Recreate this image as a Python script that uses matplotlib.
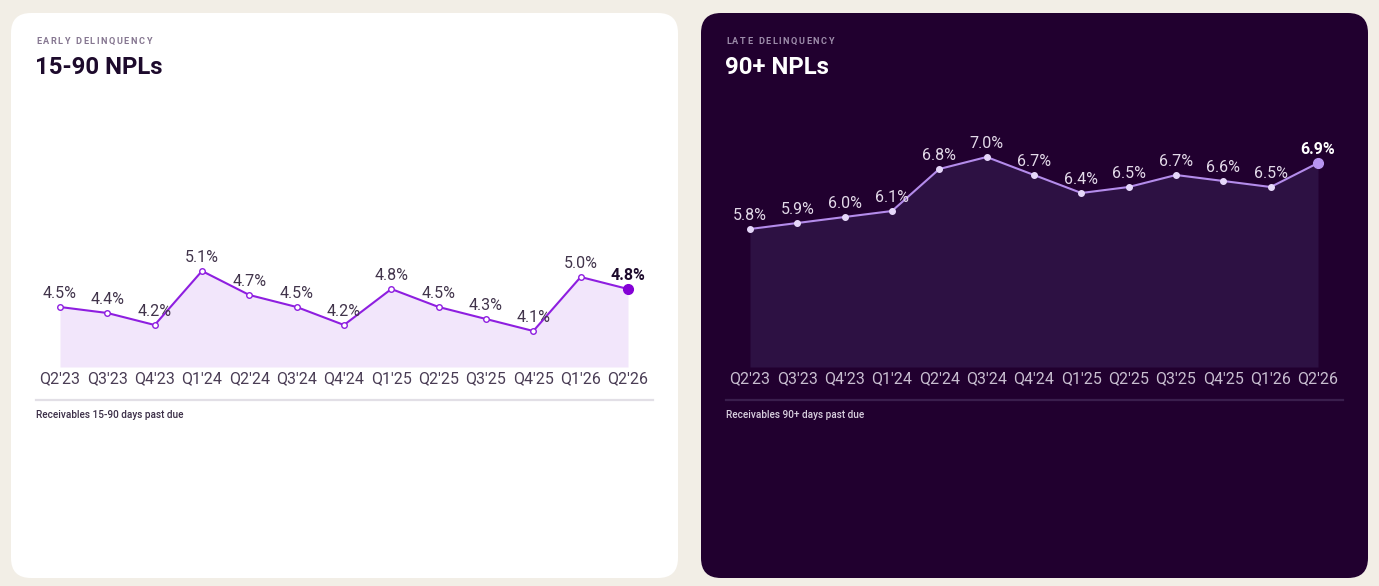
import matplotlib
matplotlib.use("Agg")
import matplotlib.pyplot as plt
from matplotlib.patches import FancyBboxPatch
from matplotlib.lines import Line2D

quarters = ["Q2'23", "Q3'23", "Q4'23", "Q1'24", "Q2'24", "Q3'24", "Q4'24",
            "Q1'25", "Q2'25", "Q3'25", "Q4'25", "Q1'26", "Q2'26"]
early_npl = [4.5, 4.4, 4.2, 5.1, 4.7, 4.5, 4.2, 4.8, 4.5, 4.3, 4.1, 5.0, 4.8]
late_npl = [5.8, 5.9, 6.0, 6.1, 6.8, 7.0, 6.7, 6.4, 6.5, 6.7, 6.6, 6.5, 6.9]

FONT = ["Roboto", "DejaVu Sans"]
plt.rcParams['font.family'] = FONT

W, H = 1379, 586
DPI = 100
fig = plt.figure(figsize=(W / DPI, H / DPI), dpi=DPI)
fig.patch.set_facecolor("#F2EEE6")


def fx(px):
    return px / W


def fy(py):
    return 1 - py / H


def card(x0, y0, x1, y1, color):
    ax = fig.add_axes([fx(x0), fy(y1), fx(x1 - x0), (y1 - y0) / H])
    ax.set_xlim(0, x1 - x0)
    ax.set_ylim(y1 - y0, 0)
    ax.axis("off")
    ax.add_patch(FancyBboxPatch((0, 0), x1 - x0, y1 - y0,
                                boxstyle="round,pad=0,rounding_size=20",
                                facecolor=color, edgecolor="none", mutation_aspect=1))
    return ax


def spaced_text(x, y, s, color, size, spacing):
    renderer = fig.canvas.get_renderer()
    cur = x
    for ch in s:
        t = fig.text(fx(cur), fy(y), ch, fontsize=size, color=color,
                     fontweight="bold", va="center_baseline", ha="left")
        bb = t.get_window_extent(renderer=renderer)
        if ch == " ":
            wpx = size * 0.28 * DPI / 72
        else:
            wpx = bb.width
        cur += wpx + spacing


def panel(x0, values, style):
    card(x0 - 49, 13, x0 + 618, 578, style["card"])
    spaced_text(x0 - 24, 40.5, style["kicker"], style["kicker_c"], 6.6, 1.55)
    fig.text(fx(x0 - 25), fy(65.5), style["title"], fontsize=17.2, color=style["title_c"],
             fontweight="bold", va="center_baseline", ha="left")
    ymin, ymax = 3.5, 7.5
    top_px = 367 - (ymax - ymin) * 60
    ax = fig.add_axes([fx(x0), fy(367), fx(568), (367 - top_px) / H])
    ax.set_xlim(0, len(values) - 1)
    ax.set_ylim(ymin, ymax)
    ax.set_facecolor("none")
    for s in ax.spines.values():
        s.set_visible(False)
    ax.set_yticks([])
    xs = list(range(len(values)))
    ax.fill_between(xs, values, ymin, color=style["fill"], linewidth=0, zorder=1)
    ax.plot(xs, values, color=style["line"], lw=1.5, zorder=2, clip_on=False)
    ax.plot(xs[:-1], values[:-1], ls="none", marker="o", ms=4.0,
            mfc=style["mfc"], mec=style["mec"], mew=1.0, zorder=3, clip_on=False)
    ax.plot(xs[-1:], values[-1:], ls="none", marker="o", ms=7.0,
            mfc=style["last"], mec=style["last"], zorder=4, clip_on=False)
    for i, v in enumerate(values):
        last = i == len(values) - 1
        ax.annotate(f"{v:.1f}%", (xs[i], v), xytext=(0, 9.8), textcoords="offset points",
                    ha="center", va="center", fontsize=11.5,
                    color=style["lab_last"] if last else style["lab"],
                    fontweight="bold" if last else "normal", zorder=5)
    ax.set_xticks(xs)
    ax.set_xticklabels(quarters, fontsize=11.5, color=style["tick"])
    ax.tick_params(axis="x", length=0, pad=3.0)
    fig.add_artist(Line2D([fx(x0 - 24), fx(x0 + 593)], [fy(399.5), fy(399.5)],
                          color=style["sep"], lw=1.6, transform=fig.transFigure))
    fig.text(fx(x0 - 24), fy(414.5), style["note"], fontsize=7.2, color=style["note_c"],
             va="center", ha="left", fontweight="medium")


panel(60, early_npl, dict(
    card="#FFFFFF", kicker="EARLY DELINQUENCY", kicker_c="#857690",
    title="15-90 NPLs", title_c="#1D0A2C",
    fill="#F2E6FB", line="#8E1EE0", mfc="#FFFFFF", mec="#8E1EE0", last="#8400D6",
    lab="#41344B", lab_last="#1D0A2C", tick="#4A3D55", sep="#E2DFE6",
    note="Receivables 15-90 days past due", note_c="#3B2E47"))

panel(750, late_npl, dict(
    card="#21002F", kicker="LATE DELINQUENCY", kicker_c="#9D8DAA",
    title="90+ NPLs", title_c="#FFFFFF",
    fill="#2D1143", line="#B48CEB", mfc="#E6D8FA", mec="#E6D8FA", last="#B794F0",
    lab="#E3DAE9", lab_last="#FFFFFF", tick="#C8BED0", sep="#3A1E4D",
    note="Receivables 90+ days past due", note_c="#D8CFDE"))

fig.savefig("out.png", dpi=DPI, facecolor=fig.get_facecolor())
